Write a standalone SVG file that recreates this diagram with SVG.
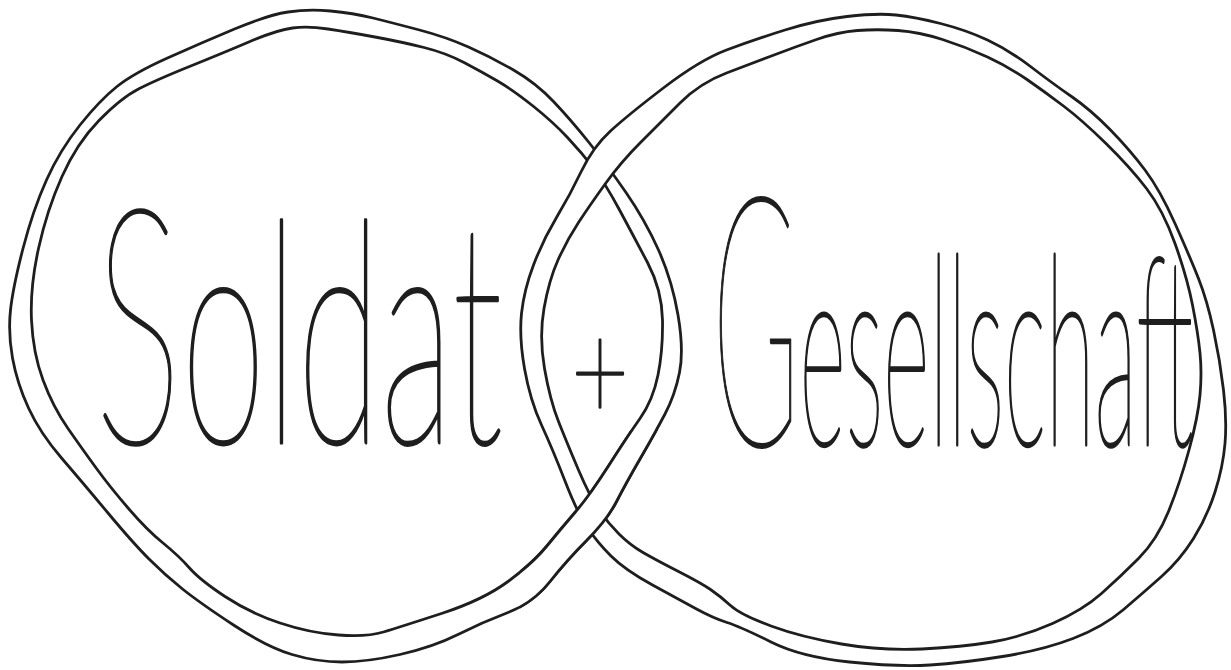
<svg xmlns="http://www.w3.org/2000/svg" width="1231" height="670" viewBox="0 0 1231 670">
<style>
.line{fill:none;stroke:#1e1e1e;stroke-width:2.8;stroke-linejoin:round;stroke-linecap:round}
.band{fill:#ffffff;fill-rule:evenodd;stroke:none}
.hand{font-family:Lato,Roboto,"DejaVu Sans",sans-serif;font-weight:100;fill:#1e1e1e;stroke:#1e1e1e;stroke-width:2.4;stroke-linejoin:round;vector-effect:non-scaling-stroke}
</style>
<defs>
<path id="lo" d="M288,12 Q308,9 330.5,11 Q353,13 373,18 Q393,23 419.5,30 Q446,37 468.5,47 Q491,57 513.5,70 Q536,83 553.5,101.5 Q571,120 589,142.5 Q607,165 626,192.5 Q645,220 658.5,250 Q672,280 678,315 Q684,350 679.5,372.5 Q675,395 665,414 Q655,433 640.5,458 Q626,483 616.5,501.5 Q607,520 587,540 Q567,560 550,581.5 Q533,603 508,612.5 Q483,622 458,634.5 Q433,647 400,654.5 Q367,662 342,662 Q317,662 292,654.5 Q267,647 233.5,625 Q200,603 182.5,589 Q165,575 149,559 Q133,543 108,513 Q83,483 61.5,458 Q40,433 28.5,408 Q17,383 12.5,358 Q8,333 10.5,310 Q13,287 23,248.5 Q33,210 46.5,180 Q60,150 80,125 Q100,100 117,86.5 Q134,73 167.5,58 Q201,43 234.5,29 Q268,15 288,12 Z"/>
<path id="li" d="M292.5,28 Q308,26 328,29 Q348,32 375,37 Q402,42 424,47.5 Q446,53 464,62.5 Q482,72 497.5,81 Q513,90 533,106 Q553,122 567.5,137.5 Q582,153 593.5,168 Q605,183 619,209 Q633,235 647.5,262.5 Q662,290 662.5,320 Q663,350 658,375 Q653,400 640,418.5 Q627,437 608.5,466 Q590,495 575,512.5 Q560,530 546.5,546.5 Q533,563 508,581.5 Q483,600 441.5,613.5 Q400,627 383.5,632 Q367,637 338.5,635 Q310,633 280,623 Q250,613 225,596.5 Q200,580 189.5,568 Q179,556 163,543 Q147,530 128.5,508.5 Q110,487 96.5,468.5 Q83,450 68,428.5 Q53,407 43,380 Q33,353 31.5,320 Q30,287 38.5,248.5 Q47,210 62,176.5 Q77,143 99,120.5 Q121,98 138.5,89 Q156,80 189.5,66.5 Q223,53 250,41.5 Q277,30 292.5,28 Z"/>
<path id="lband" d="M288,12 Q308,9 330.5,11 Q353,13 373,18 Q393,23 419.5,30 Q446,37 468.5,47 Q491,57 513.5,70 Q536,83 553.5,101.5 Q571,120 589,142.5 Q607,165 626,192.5 Q645,220 658.5,250 Q672,280 678,315 Q684,350 679.5,372.5 Q675,395 665,414 Q655,433 640.5,458 Q626,483 616.5,501.5 Q607,520 587,540 Q567,560 550,581.5 Q533,603 508,612.5 Q483,622 458,634.5 Q433,647 400,654.5 Q367,662 342,662 Q317,662 292,654.5 Q267,647 233.5,625 Q200,603 182.5,589 Q165,575 149,559 Q133,543 108,513 Q83,483 61.5,458 Q40,433 28.5,408 Q17,383 12.5,358 Q8,333 10.5,310 Q13,287 23,248.5 Q33,210 46.5,180 Q60,150 80,125 Q100,100 117,86.5 Q134,73 167.5,58 Q201,43 234.5,29 Q268,15 288,12 Z M292.5,28 Q308,26 328,29 Q348,32 375,37 Q402,42 424,47.5 Q446,53 464,62.5 Q482,72 497.5,81 Q513,90 533,106 Q553,122 567.5,137.5 Q582,153 593.5,168 Q605,183 619,209 Q633,235 647.5,262.5 Q662,290 662.5,320 Q663,350 658,375 Q653,400 640,418.5 Q627,437 608.5,466 Q590,495 575,512.5 Q560,530 546.5,546.5 Q533,563 508,581.5 Q483,600 441.5,613.5 Q400,627 383.5,632 Q367,637 338.5,635 Q310,633 280,623 Q250,613 225,596.5 Q200,580 189.5,568 Q179,556 163,543 Q147,530 128.5,508.5 Q110,487 96.5,468.5 Q83,450 68,428.5 Q53,407 43,380 Q33,353 31.5,320 Q30,287 38.5,248.5 Q47,210 62,176.5 Q77,143 99,120.5 Q121,98 138.5,89 Q156,80 189.5,66.5 Q223,53 250,41.5 Q277,30 292.5,28 Z"/>
<path id="ro" d="M847,16.5 Q877,13 896,15 Q915,17 940.5,23.5 Q966,30 987.5,40 Q1009,50 1030.5,66.5 Q1052,83 1071.5,96.5 Q1091,110 1110.5,130 Q1130,150 1145,170 Q1160,190 1175,223.5 Q1190,257 1198.5,278.5 Q1207,300 1213.5,330 Q1220,360 1223.5,390 Q1227,420 1225,443.5 Q1223,467 1215,492 Q1207,517 1193.5,538.5 Q1180,560 1161.5,576.5 Q1143,593 1123,610 Q1103,627 1073,638.5 Q1043,650 1002.5,656.5 Q962,663 930,665 Q898,667 849.5,662 Q801,657 771,642 Q741,627 727,622.5 Q713,618 696.5,609 Q680,600 652.5,585 Q625,570 611,556 Q597,542 587,527 Q577,512 565,481 Q553,450 541.5,425 Q530,400 524.5,368.5 Q519,337 521.5,313.5 Q524,290 533.5,265 Q543,240 556.5,217.5 Q570,195 581.5,171 Q593,147 610.5,131 Q628,115 664,87.5 Q700,60 726.5,50 Q753,40 785,30 Q817,20 847,16.5 Z"/>
<path id="ri" d="M857.5,30.5 Q877,29 898,30.5 Q919,32 942.5,39.5 Q966,47 987.5,57 Q1009,67 1027,79.5 Q1045,92 1063.5,106 Q1082,120 1106,143.5 Q1130,167 1146.5,188.5 Q1163,210 1175,243.5 Q1187,277 1192.5,305 Q1198,333 1200,353 Q1202,373 1200,395 Q1198,417 1189,450 Q1180,483 1168.5,511.5 Q1157,540 1138.5,558.5 Q1120,577 1101.5,593.5 Q1083,610 1052.5,623.5 Q1022,637 992,642 Q962,647 922,649 Q882,651 841.5,644 Q801,637 771,626 Q741,615 730.5,605.5 Q720,596 710.5,589.5 Q701,583 678.5,571.5 Q656,560 643,552.5 Q630,545 619,534 Q608,523 599,510 Q590,497 578.5,470 Q567,443 558.5,421.5 Q550,400 544.5,368.5 Q539,337 544,308.5 Q549,280 558,260 Q567,240 578.5,222.5 Q590,205 605.5,183.5 Q621,162 640.5,142.5 Q660,123 680,103 Q700,83 726.5,73 Q753,63 774,55 Q795,47 816.5,39.5 Q838,32 857.5,30.5 Z"/>
<path id="rband" d="M847,16.5 Q877,13 896,15 Q915,17 940.5,23.5 Q966,30 987.5,40 Q1009,50 1030.5,66.5 Q1052,83 1071.5,96.5 Q1091,110 1110.5,130 Q1130,150 1145,170 Q1160,190 1175,223.5 Q1190,257 1198.5,278.5 Q1207,300 1213.5,330 Q1220,360 1223.5,390 Q1227,420 1225,443.5 Q1223,467 1215,492 Q1207,517 1193.5,538.5 Q1180,560 1161.5,576.5 Q1143,593 1123,610 Q1103,627 1073,638.5 Q1043,650 1002.5,656.5 Q962,663 930,665 Q898,667 849.5,662 Q801,657 771,642 Q741,627 727,622.5 Q713,618 696.5,609 Q680,600 652.5,585 Q625,570 611,556 Q597,542 587,527 Q577,512 565,481 Q553,450 541.5,425 Q530,400 524.5,368.5 Q519,337 521.5,313.5 Q524,290 533.5,265 Q543,240 556.5,217.5 Q570,195 581.5,171 Q593,147 610.5,131 Q628,115 664,87.5 Q700,60 726.5,50 Q753,40 785,30 Q817,20 847,16.5 Z M857.5,30.5 Q877,29 898,30.5 Q919,32 942.5,39.5 Q966,47 987.5,57 Q1009,67 1027,79.5 Q1045,92 1063.5,106 Q1082,120 1106,143.5 Q1130,167 1146.5,188.5 Q1163,210 1175,243.5 Q1187,277 1192.5,305 Q1198,333 1200,353 Q1202,373 1200,395 Q1198,417 1189,450 Q1180,483 1168.5,511.5 Q1157,540 1138.5,558.5 Q1120,577 1101.5,593.5 Q1083,610 1052.5,623.5 Q1022,637 992,642 Q962,647 922,649 Q882,651 841.5,644 Q801,637 771,626 Q741,615 730.5,605.5 Q720,596 710.5,589.5 Q701,583 678.5,571.5 Q656,560 643,552.5 Q630,545 619,534 Q608,523 599,510 Q590,497 578.5,470 Q567,443 558.5,421.5 Q550,400 544.5,368.5 Q539,337 544,308.5 Q549,280 558,260 Q567,240 578.5,222.5 Q590,205 605.5,183.5 Q621,162 640.5,142.5 Q660,123 680,103 Q700,83 726.5,73 Q753,63 774,55 Q795,47 816.5,39.5 Q838,32 857.5,30.5 Z"/>
<clipPath id="bottomCross"><rect x="520" y="430" width="180" height="200"/></clipPath>
</defs>
<rect x="0" y="0" width="1231" height="670" fill="#ffffff"/>
<g id="ring-soldat">
<use href="#lband" class="band"/>
<use href="#lo" class="line"/>
<use href="#li" class="line"/>
</g>
<g id="ring-gesellschaft">
<use href="#rband" class="band"/>
<use href="#ro" class="line"/>
<use href="#ri" class="line"/>
</g>
<g id="ring-soldat-over" clip-path="url(#bottomCross)">
<use href="#lband" class="band"/>
<use href="#lo" class="line"/>
<use href="#li" class="line"/>
</g>
<g id="label-soldat">
<text class="hand" transform="translate(95,443) scale(0.494,1)" x="0" y="0" font-size="310"><tspan font-size="330">S</tspan>oldat</text>
</g>
<g id="label-plus">
<text class="hand" transform="translate(600,373) scale(1,1.4)" x="0" y="34" font-size="100" text-anchor="middle">+</text>
</g>
<g id="label-gesellschaft">
<text class="hand" transform="translate(712,445) scale(0.338,1)" x="0" y="0" font-size="265"><tspan font-size="350">G</tspan>esellschaft</text>
</g>
</svg>
